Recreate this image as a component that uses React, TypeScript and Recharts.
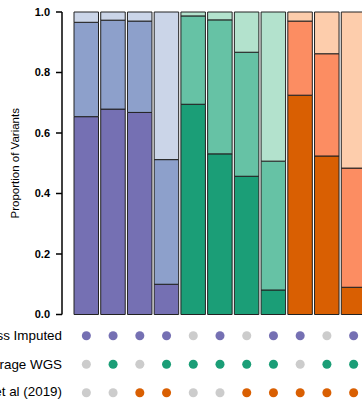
import { BarChart, Bar, Cell, XAxis, YAxis, ScatterChart, Scatter, ZAxis } from 'recharts';

const columns = ['c1', 'c2', 'c3', 'c4', 'c5', 'c6', 'c7', 'c8', 'c9', 'c10', 'c11'];
const group = ['imputed', 'imputed', 'imputed', 'imputed', 'wgs', 'wgs', 'wgs', 'wgs', 'study', 'study', 'study'];

// proportion of variants per bar, bottom to top
const darkShare = [0.654, 0.679, 0.668, 0.1, 0.695, 0.531, 0.457, 0.081, 0.725, 0.524, 0.09];
const midShare = [0.312, 0.294, 0.302, 0.412, 0.292, 0.443, 0.41, 0.426, 0.245, 0.338, 0.394];
const lightShare = [0.034, 0.027, 0.03, 0.488, 0.013, 0.026, 0.133, 0.493, 0.03, 0.138, 0.516];

const yTicks = [0, 0.2, 0.4, 0.6, 0.8, 1.0];

const setNames = ['Low-pass Imputed', 'High-coverage WGS', 'Schlebusch et al (2019)'];
const imputedIn = [1, 1, 1, 1, 0, 1, 0, 1, 1, 0, 1];
const wgsIn = [0, 1, 0, 1, 1, 1, 1, 1, 0, 1, 1];
const studyIn = [0, 0, 1, 1, 0, 0, 1, 1, 1, 1, 1];

const palette: Record<string, string[]> = {
  imputed: ['#7570b3', '#8da0cb', '#cbd5e8'],
  wgs: ['#1b9e77', '#66c2a5', '#b3e2cd'],
  study: ['#d95f02', '#fc8d62', '#fdcdac'],
};
const off = '#cccccc';

const barData = columns.map((name, i) => ({
  name,
  dark: darkShare[i],
  mid: midShare[i],
  light: lightShare[i],
}));

const rows = [
  { key: 'imputed', members: imputedIn },
  { key: 'wgs', members: wgsIn },
  { key: 'study', members: studyIn },
];

const PLOT_LEFT = 62;
const W = 380;

// plain svg text so long set names don't wrap
const SetTick = (props: any) => (
  <text x={props.x} y={props.y} dy='0.35em' textAnchor='end' fill='#000' fontSize={13.4}>
    {setNames[props.payload.value]}
  </text>
);

export default function App() {
  return (
    <div
      style={{
        position: 'absolute',
        left: 0,
        top: 0,
        width: 362,
        height: 400,
        overflow: 'hidden',
        background: '#fff',
        fontFamily: '"Liberation Sans", Arial, sans-serif',
      }}
    >
      <div style={{ position: 'absolute', left: 0, top: 0 }}>
        <BarChart width={W} height={330} data={barData} margin={{ top: 12, right: 0, bottom: 15.5, left: 0 }} barSize={24.5}>
          <XAxis dataKey='name' hide padding={{ left: 11, right: 13 }} />
          <YAxis
            width={PLOT_LEFT}
            domain={[0, 1]}
            ticks={yTicks}
            tickFormatter={(v: number) => v.toFixed(1)}
            tick={{ fill: '#000', fontSize: 11, fontWeight: 'bold' }}
            tickSize={6}
            tickMargin={6}
            axisLine={{ stroke: '#000', strokeWidth: 1.5 }}
            tickLine={{ stroke: '#000', strokeWidth: 1.5 }}
            label={{
              value: 'Proportion of Variants',
              angle: -90,
              position: 'insideLeft',
              offset: 15,
              style: { textAnchor: 'middle', fontSize: 11.5, fill: '#000' },
            }}
          />
          {(['dark', 'mid', 'light'] as const).map((k, level) => (
            <Bar key={k} dataKey={k} stackId='a' stroke='#222' strokeWidth={1} isAnimationActive={false}>
              {barData.map((d, i) => (
                <Cell key={d.name} fill={palette[group[i]][level]} />
              ))}
            </Bar>
          ))}
        </BarChart>
      </div>
      <div style={{ position: 'absolute', left: 0, top: 0 }}>
        <ScatterChart width={W} height={400} margin={{ top: 335.7, right: 0, bottom: 7.3, left: 0 }}>
          <XAxis type='number' dataKey='x' domain={[-0.5, 10.5]} hide padding={{ left: 11, right: 13 }} />
          <YAxis
            type='number'
            dataKey='y'
            width={PLOT_LEFT}
            domain={[0, 2]}
            reversed
            ticks={[0, 1, 2]}
            tick={SetTick}
            tickSize={0}
            tickMargin={0}
            axisLine={false}
            tickLine={false}
          />
          <ZAxis range={[72, 72]} />
          {rows.map((r, ri) => (
            <Scatter
              key={r.key}
              data={r.members.map((m, i) => ({ x: i, y: ri, m }))}
              isAnimationActive={false}
            >
              {r.members.map((m, i) => (
                <Cell key={i} fill={m ? palette[r.key][0] : off} />
              ))}
            </Scatter>
          ))}
        </ScatterChart>
      </div>
    </div>
  );
}
